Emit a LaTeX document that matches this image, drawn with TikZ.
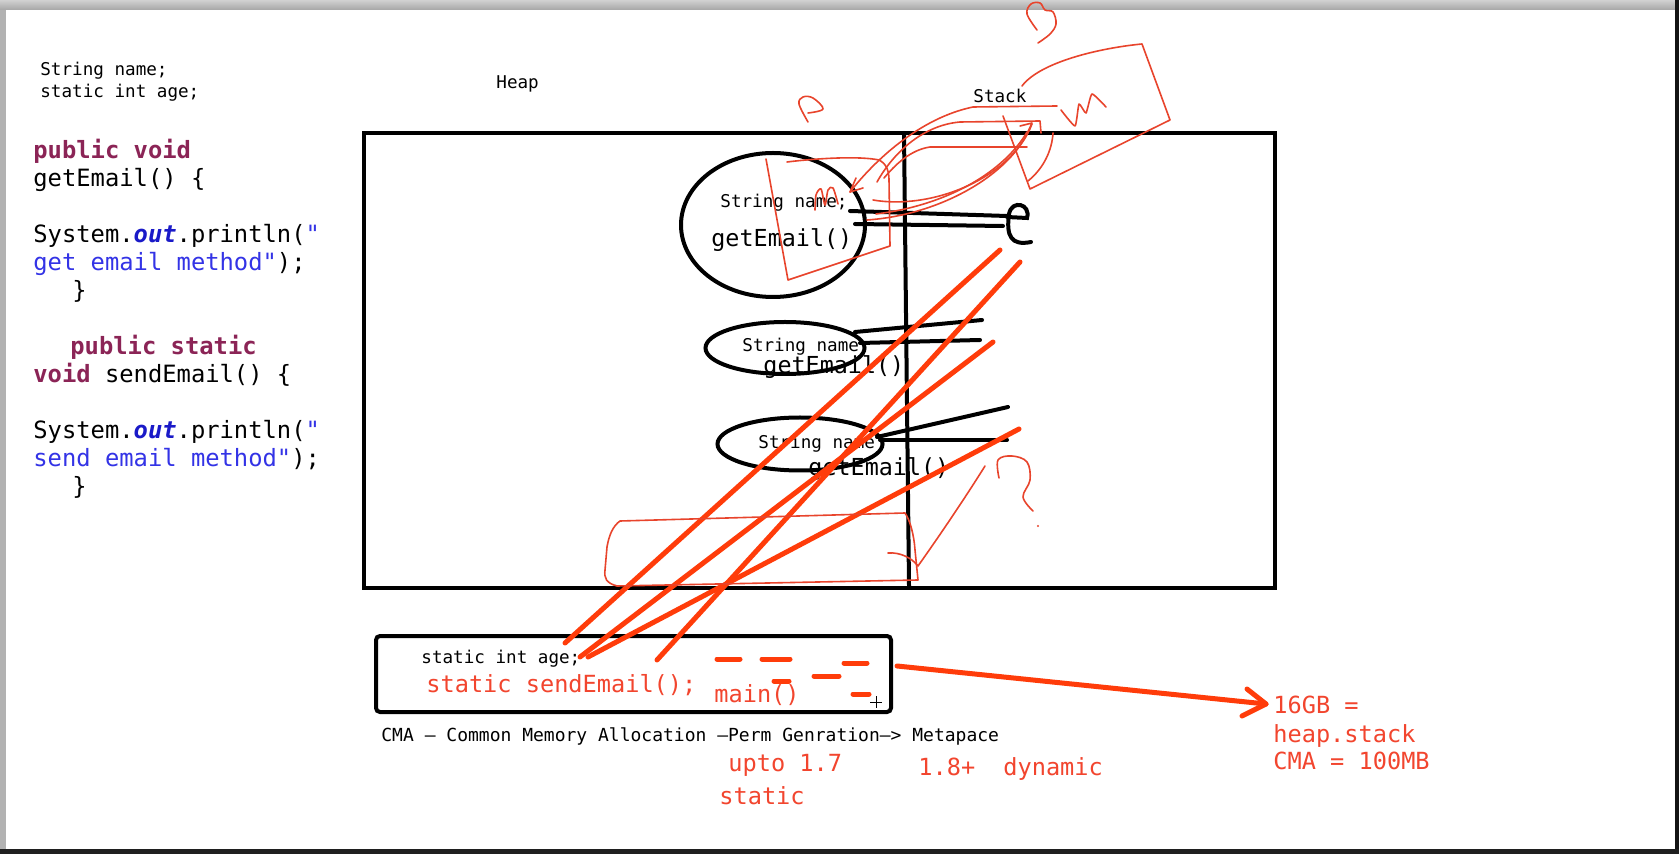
\documentclass[tikz,border=0pt]{standalone}
\usepackage{fontspec}
\usetikzlibrary{shapes.geometric}
\newfontfamily\monof{DejaVu Sans Mono}
\definecolor{kw}{HTML}{8B2456}
\definecolor{fld}{HTML}{1A1AC8}
\definecolor{strc}{HTML}{3333E6}
\definecolor{redt}{HTML}{F2452E}
\definecolor{thickred}{HTML}{FF3C0A}
\definecolor{scr}{HTML}{E8442C}
\begin{document}
\begin{tikzpicture}[x=0.5pt,y=-0.5pt,
  smalltxt/.style={anchor=base west, inner sep=0pt, font=\monof\fontsize{8.8}{10}\selectfont},
  codetxt/.style={anchor=base west, inner sep=0pt, font=\monof\fontsize{11.9}{14}\selectfont},
  eltxt/.style={anchor=base west, inner sep=0pt, font=\monof\fontsize{11.7}{14}\selectfont},
  redtxt/.style={anchor=base west, inner sep=0pt, text=redt, font=\monof\fontsize{11.8}{14}\selectfont},
  blk/.style={draw=black, line width=2pt, line cap=round},
  blkell/.style={draw=black, line width=2pt, ellipse, inner sep=0pt},
  redline/.style={draw=thickred, line width=2.5pt, line cap=round},
  scrib/.style={draw=scr, line width=0.8pt, line cap=round, line join=round}]
\useasboundingbox (0,0) rectangle (1679,854);
\fill[white] (0,0) rectangle (1679,854);
% window frame
\shade[top color=black!18, bottom color=black!35] (0,0) rectangle (1675,10);
\fill[black!30] (0,10) rectangle (6,849);
\fill[black!92] (1675,0) rectangle (1679,854);
\fill[black!88] (0,849) rectangle (1679,854);

% top-left fields
\node[smalltxt] (f1) at (40,76) {String name;};
\node[smalltxt] (f2) at (40,98) {static int age;};

% code
\node[codetxt] (c1) at (33,159) {\textcolor{kw}{\bfseries public void}};
\node[codetxt] (c2) at (33,187) {getEmail() \{};
\node[codetxt] (c3) at (33,243) {System.\textcolor{fld}{\bfseries\itshape out}.println(\textcolor{strc}{"}};
\node[codetxt] (c4) at (33,271) {\textcolor{strc}{get email method"});};
\node[codetxt] (c5) at (72,299) {\}};
\node[codetxt] (c6) at (70,355) {\textcolor{kw}{\bfseries public static}};
\node[codetxt] (c7) at (33,383) {\textcolor{kw}{\bfseries void} sendEmail() \{};
\node[codetxt] (c8) at (33,439) {System.\textcolor{fld}{\bfseries\itshape out}.println(\textcolor{strc}{"}};
\node[codetxt] (c9) at (33,467) {\textcolor{strc}{send email method"});};
\node[codetxt] (c10) at (72,495) {\}};

% heap / stack
\node[smalltxt] (heap) at (496,89) {Heap};
\node[smalltxt] (stack) at (973,103) {Stack};
\draw[blk] (364,133) rectangle (1275,588);
\coordinate (dtop) at (904,133);
\coordinate (dbot) at (909,586);
\draw[blk] (dtop) -- (dbot);

% objects
\node[blkell, minimum width=92pt, minimum height=72pt] (ell1) at (773,225) {};
\node[blkell, minimum width=79.5pt, minimum height=26pt] (ell2) at (785,348) {};
\node[blkell, minimum width=82.5pt, minimum height=26.5pt] (ell3) at (800,444) {};
\node[smalltxt] (e1a) at (720,208) {String name;};
\node[eltxt] (e1b) at (711,247) {getEmail()};
\node[smalltxt] (e2a) at (742,352) {String name};
\node[eltxt] (e2b) at (763,374) {getEmail()};
\node[smalltxt] (e3a) at (758,449) {String name};
\node[eltxt] (e3b) at (808,476) {getEmail()};

% references
\coordinate (r1a) at (850,211); \coordinate (r1b) at (1007,216);
\coordinate (r1c) at (855,224); \coordinate (r1d) at (1003,226);
\draw[blk] (r1a) -- (r1b);
\draw[blk] (r1c) -- (r1d);
\draw[blk] (1007,217) -- (1027,218) .. controls (1031,204) and (1012,199) .. (1009,214) .. controls (1006,236) and (1011,246) .. (1031,242);
\coordinate (r2a) at (855,332); \coordinate (r2b) at (982,320);
\coordinate (r2c) at (860,343); \coordinate (r2d) at (980,340);
\draw[blk] (r2a) -- (r2b);
\draw[blk] (r2c) -- (r2d);
\coordinate (r3a) at (877,437); \coordinate (r3b) at (1008,407);
\coordinate (r3c) at (880,440); \coordinate (r3d) at (1007,440);
\draw[blk] (r3a) -- (r3b);
\draw[blk] (r3c) -- (r3d);

% CMA box
\draw[blk, rounded corners=2pt] (376,636) rectangle (891,712);
\node[smalltxt] (age) at (421,663) {static int age;};
\node[redtxt] (send) at (426,692) {static sendEmail();};
\node[redtxt] (mainm) at (714,702) {main()};
\draw[redline] (717,659) -- (740,659);
\draw[redline] (762,659) -- (790,659);
\draw[redline] (814,676) -- (839,676);
\draw[redline] (844,663) -- (867,663);
\draw[redline] (774,681) -- (789,681);
\draw[redline] (853,694) -- (869,694);
\draw[black, line width=0.5pt] (870,702) -- (882,702) (876,696) -- (876,708);

\node[anchor=base west, inner sep=0pt, font=\monof\fontsize{9}{10}\selectfont] (cma) at (381,741) {CMA – Common Memory Allocation –Perm Genration–> Metapace};
\node[redtxt] (upto) at (728,771) {upto 1.7};
\node[redtxt] (stat) at (719,804) {static};
\node[redtxt] (v18) at (918,775) {1.8+};
\node[redtxt] (dyn) at (1003,775) {dynamic};
\node[redtxt] (gb1) at (1273,713) {16GB =};
\node[redtxt] (gb2) at (1273,742) {heap.stack};
\node[redtxt] (gb3) at (1273,769) {CMA = 100MB};

% arrow to sizes
\coordinate (arA) at (897,666);
\coordinate (arB) at (1266,704);
\draw[redline] (arA) -- (arB);
\draw[redline, line join=round] (1247,689) -- (arB) -- (1242,716);

% long strike lines
\draw[redline] (565,643) -- (1000,250);
\draw[redline] (580,657) -- (993,342);
\draw[redline] (657,660) -- (1020,262);
\draw[redline] (588,657) -- (1019,429);

% thin scribbles
\draw[scrib] plot[smooth, tension=0.6] coordinates {(808,122) (799,104) (803,97) (813,98) (823,109) (808,113)};
\draw[scrib] (787,162) .. controls (820,158) and (860,156) .. (879,160) .. controls (887,164) and (889,172) .. (889,180) -- (890,246) -- (788,280) -- (766,159);
\draw[scrib] plot[smooth, tension=0.5] coordinates {(815,210) (816,195) (821,189) (825,205) (828,190) (833,188) (838,204)};
% arrow from stack to object
\draw[scrib] (850,192) .. controls (875,160) and (920,118) .. (973,107) -- (1057,106);
\draw[scrib] (856,178) -- (850,192) -- (863,188);
% loops
\draw[scrib] (877,182) .. controls (895,150) and (925,125) .. (960,122) -- (1040,121) -- (1041,133);
\draw[scrib] (884,178) .. controls (895,165) and (910,150) .. (930,147) -- (1027,147);
\draw[scrib] (873,200) .. controls (930,210) and (1010,180) .. (1032,124);
\draw[scrib] (867,220) .. controls (940,215) and (1010,175) .. (1030,128);
\draw[scrib] (876,214) .. controls (950,205) and (1005,170) .. (1027,132);
\draw[scrib] (1020,126) -- (1032,123) -- (1027,134);
\draw[scrib] (1003,116) -- (1030,189) -- (1170,120) -- (1142,44) .. controls (1100,48) and (1040,62) .. (1022,86);
\draw[scrib] (1053,133) .. controls (1052,150) and (1044,168) .. (1028,181);
\draw[scrib] plot[smooth, tension=0.3] coordinates {(1061,110) (1075,126) (1079,104) (1086,113) (1092,94) (1106,107)};
\draw[scrib] plot[smooth, tension=0.6] coordinates {(1037,30) (1027,14) (1031,4) (1040,3) (1045,10) (1053,12) (1056,24) (1050,34) (1038,43)};
% lower right
\draw[scrib] (985,466) .. controls (965,498) and (940,535) .. (918,566) .. controls (912,558) and (900,552) .. (888,553);
\draw[scrib] plot[smooth, tension=0.6] coordinates {(999,478) (998,460) (1012,456) (1027,462) (1030,480) (1023,497) (1033,511)};
\fill[scr] (1038,526) circle (0.6pt);
% bottom heap box
\draw[scrib] (620,521) -- (905,513) .. controls (910,520) and (914,535) .. (915,550) -- (918,580) -- (617,586) .. controls (606,583) and (604,578) .. (605,570) -- (607,547) .. controls (609,535) and (613,526) .. (620,521);
\end{tikzpicture}
\end{document}
